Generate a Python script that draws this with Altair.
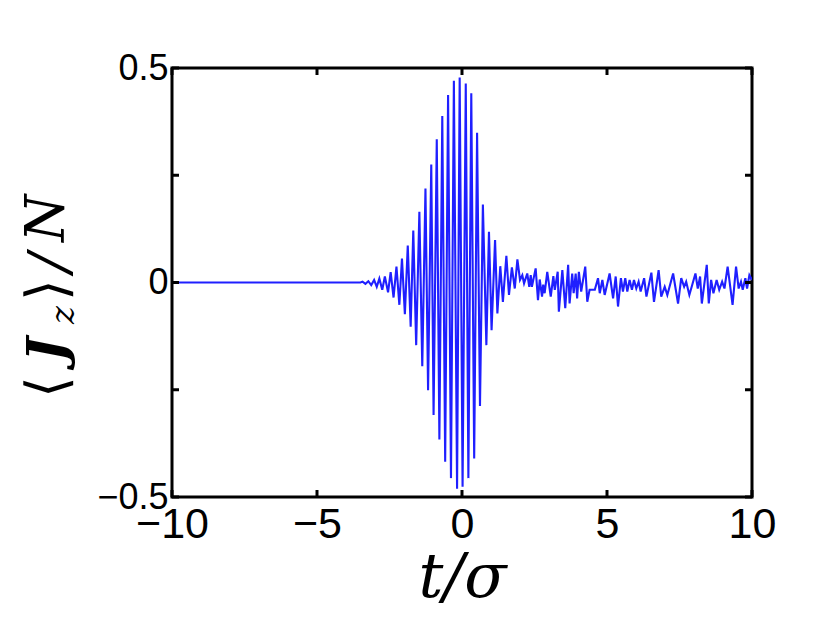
import altair as alt
import pandas as pd

# ---- data (extrema of the trace) ----
t_vals = [
    -10.0, -3.5, -3.43, -3.33, -3.23, -3.13, -3.03, -2.94, -2.85, -2.75,
    -2.66, -2.55, -2.46, -2.36, -2.26, -2.16, -2.07, -1.97, -1.87, -1.77,
    -1.68, -1.58, -1.47, -1.37, -1.26, -1.17, -1.06, -0.98, -0.87, -0.78,
    -0.68, -0.58, -0.48, -0.38, -0.28, -0.17, -0.08, 0.02, 0.13, 0.22,
    0.32, 0.42, 0.52, 0.62, 0.72, 0.84, 0.93, 1.02, 1.14, 1.22,
    1.32, 1.41, 1.53, 1.62, 1.72, 1.82, 1.91, 2.00, 2.08, 2.14,
    2.25, 2.32, 2.37, 2.41, 2.54, 2.62, 2.68, 2.76, 2.80, 2.85,
    2.94, 3.06, 3.15, 3.20, 3.30, 3.34, 3.46, 3.56, 3.66, 3.71,
    3.80, 3.85, 3.92, 3.97, 4.03, 4.11, 4.25, 4.32, 4.40, 4.58,
    4.69, 4.75, 4.84, 4.92, 5.09, 5.21, 5.30, 5.38, 5.48, 5.55,
    5.63, 5.70, 5.78, 5.86, 5.93, 6.01, 6.09, 6.16, 6.28, 6.36,
    6.53, 6.62, 6.78, 6.87, 6.99, 7.08, 7.28, 7.45, 7.56, 7.66,
    7.73, 7.84, 8.05, 8.13, 8.21, 8.27, 8.44, 8.51, 8.59, 8.67,
    8.78, 8.87, 8.97, 9.05, 9.16, 9.33, 9.45, 9.54, 9.62, 9.68,
    9.77, 9.83, 9.91, 10.0,
]
jz_vals = [
    0.0, 0.0, 0.002, -0.003, 0.003, -0.006, 0.006, -0.010, 0.009, -0.017,
    0.014, -0.023, 0.024, -0.035, 0.037, -0.052, 0.056, -0.074, 0.086, -0.103,
    0.121, -0.146, 0.165, -0.195, 0.219, -0.251, 0.275, -0.309, 0.334, -0.366,
    0.388, -0.418, 0.437, -0.456, 0.470, -0.481, 0.478, -0.476, 0.464, -0.456,
    0.441, -0.410, 0.349, -0.288, 0.182, -0.146, 0.118, -0.111, 0.099, -0.072,
    0.038, -0.045, 0.062, -0.029, 0.035, -0.014, 0.054, 0.006, 0.017, -0.002,
    0.021, -0.010, 0.017, -0.010, 0.033, -0.041, 0.007, -0.033, -0.005, -0.025,
    0.025, -0.033, 0.015, -0.017, 0.025, -0.068, 0.029, -0.060, 0.041, -0.049,
    0.021, -0.025, 0.021, -0.037, 0.025, -0.021, 0.037, -0.045, -0.017, -0.017,
    0.010, -0.025, 0.006, -0.029, 0.021, -0.037, 0.014, -0.056, 0.010, -0.021,
    0.010, -0.021, 0.006, -0.017, 0.006, -0.014, 0.002, -0.021, 0.010, -0.033,
    0.023, -0.045, 0.029, -0.033, -0.010, -0.029, 0.021, -0.049, 0.010, -0.010,
    0.002, -0.029, 0.021, -0.014, 0.014, -0.049, 0.041, -0.049, 0.006, -0.025,
    0.006, -0.017, 0.002, -0.014, 0.037, -0.052, 0.037, -0.014, 0.002, -0.017,
    0.010, -0.014, 0.017, 0.006,
]

x_ticks = [-10, -5, 0, 5, 10]
y_ticks = [-0.5, -0.25, 0, 0.25, 0.5]
y_labelled = [-0.5, 0, 0.5]

W, H = 580, 429
TICK = 7

df = pd.DataFrame({"t": t_vals, "jz": jz_vals})
xt = pd.DataFrame({"t": x_ticks})
yt = pd.DataFrame({"jz": y_ticks})

xscale = alt.Scale(domain=[-10, 10], nice=False, zero=False)
yscale = alt.Scale(domain=[-0.5, 0.5], nice=False, zero=False)

label_font = "Liberation Sans"
math_font = "DejaVu Serif"

x_axis = alt.Axis(values=x_ticks, format="d", title="t/σ",
                  domain=False, ticks=False, grid=False,
                  labelFont=label_font, labelFontSize=43, labelColor="black",
                  labelPadding=6, labelFlush=False, labelOverlap=False,
                  titleFont=math_font, titleFontStyle="italic",
                  titleFontWeight="normal", titleFontSize=62,
                  titleColor="black", titlePadding=1)
y_axis = alt.Axis(values=y_labelled,
                  labelExpr="datum.value == 0 ? '0' : format(datum.value, '.1f')",
                  title=None, domain=False, ticks=False, grid=False,
                  labelFont=label_font, labelFontSize=36, labelColor="black",
                  labelPadding=4, labelFlush=False, labelOverlap=False)

line = alt.Chart(df).mark_line(color="#1f1fff", strokeWidth=2.1, clip=True).encode(
    x=alt.X("t:Q", scale=xscale, axis=x_axis),
    y=alt.Y("jz:Q", scale=yscale, axis=y_axis),
)

tick_mark = dict(color="black", strokeWidth=3)
bottom_ticks = alt.Chart(xt).mark_rule(**tick_mark).encode(
    x=alt.X("t:Q", scale=xscale, axis=x_axis), y=alt.value(H), y2=alt.value(H - TICK))
top_ticks = alt.Chart(xt).mark_rule(**tick_mark).encode(
    x=alt.X("t:Q", scale=xscale, axis=x_axis), y=alt.value(0), y2=alt.value(TICK))
left_ticks = alt.Chart(yt).mark_rule(**tick_mark).encode(
    y=alt.Y("jz:Q", scale=yscale, axis=y_axis), x=alt.value(0), x2=alt.value(TICK))
right_ticks = alt.Chart(yt).mark_rule(**tick_mark).encode(
    y=alt.Y("jz:Q", scale=yscale, axis=y_axis), x=alt.value(W), x2=alt.value(W - TICK))

# y-axis title  <J_z>/N  built from pieces (rotated)
bx = -108
ytitle_pieces = [
    ("⟨", "DejaVu Serif", "normal", "normal", 56, bx + 2, 330),
    ("J", math_font, "italic", "bold", 52, bx, 294),
    ("z", math_font, "italic", "normal", 34, bx + 10, 256),
    ("⟩", "DejaVu Serif", "normal", "normal", 56, bx + 2, 233),
    ("/", math_font, "italic", "normal", 56, bx + 4, 204),
    ("N", math_font, "italic", "normal", 54, bx, 174),
]
title_layers = []
for txt, fnt, sty, wt, sz, px, py in ytitle_pieces:
    title_layers.append(
        alt.Chart(pd.DataFrame({"s": [txt]})).mark_text(
            font=fnt, fontStyle=sty, fontWeight=wt, fontSize=sz, angle=270,
            align="left", baseline="alphabetic", color="black",
        ).encode(text="s:N", x=alt.value(px), y=alt.value(py))
    )

chart = alt.layer(
    line, bottom_ticks, top_ticks, left_ticks, right_ticks, *title_layers
).properties(
    width=W, height=H,
    padding={"left": 164, "top": 60, "right": 70, "bottom": 128},
    autosize=alt.AutoSizeParams(type="none"),
    background="white",
).configure_view(stroke="black", strokeWidth=3)

chart.save("out.html", embed_options={"renderer": "svg", "actions": False})
